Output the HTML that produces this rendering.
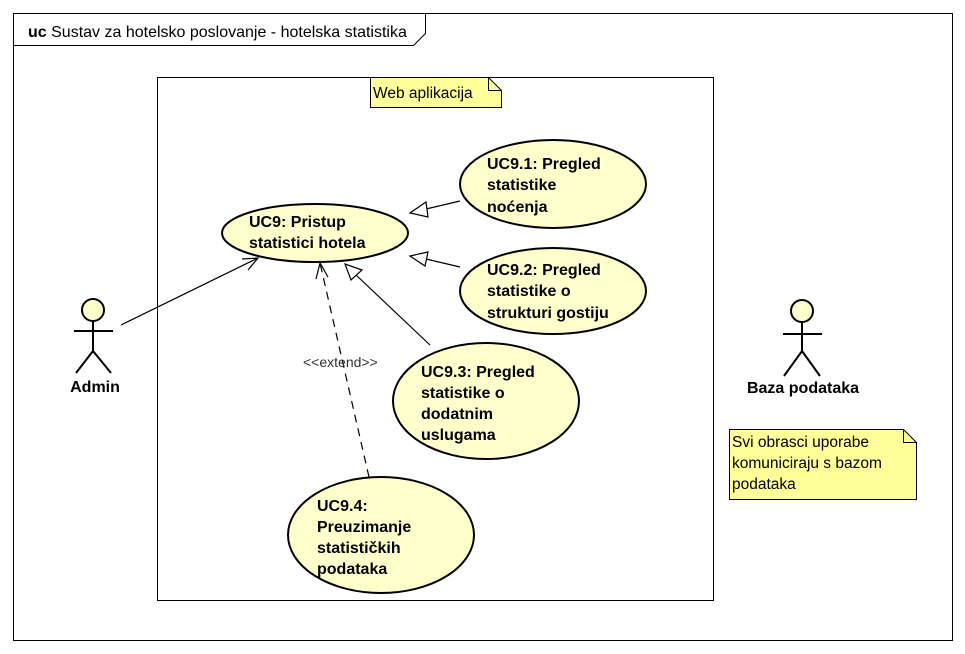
<!DOCTYPE html>
<html><head><meta charset="utf-8"><style>html,body{margin:0;padding:0;background:#fff}svg{display:block}</style></head>
<body>
<svg width="965" height="654" viewBox="0 0 965 654" xmlns="http://www.w3.org/2000/svg" font-family="Liberation Sans, sans-serif">
<rect x="0" y="0" width="965" height="654" fill="#fff"/>
<rect x="13.5" y="13.5" width="939" height="627" fill="none" stroke="#000"/>
<path d="M13.5 45.5 H413.5 L425.5 33.5 V13.5" fill="none" stroke="#000"/>
<text x="28" y="37" font-size="16"><tspan font-weight="bold">uc</tspan> Sustav za hotelsko poslovanje - hotelska statistika</text>
<rect x="157.5" y="77.5" width="556" height="523" fill="none" stroke="#000"/>
<path d="M370.5 77.5 H488.5 L501.5 90.5 V107.5 H370.5 Z" fill="#ffff99" stroke="#000"/>
<path d="M488.5 77.5 V90.5 H501.5" fill="none" stroke="#000"/>
<text x="373" y="98" font-size="15.5">Web aplikacija</text>
<g fill="#ffffcc" stroke="#000" stroke-width="2">
<ellipse cx="315" cy="233" rx="93" ry="29"/>
<ellipse cx="553" cy="184" rx="93" ry="44"/>
<ellipse cx="553" cy="291" rx="93" ry="43"/>
<ellipse cx="486" cy="401" rx="93" ry="58"/>
<ellipse cx="381" cy="535" rx="93" ry="58"/>
</g>
<g font-size="16" font-weight="bold">
<text x="249" y="227">UC9: Pristup</text><text x="249" y="248">statistici hotela</text>
<text x="487" y="169">UC9.1: Pregled</text><text x="487" y="190">statistike</text><text x="487" y="212">noćenja</text>
<text x="487" y="275">UC9.2: Pregled</text><text x="487" y="296">statistike o</text><text x="487" y="318">strukturi gostiju</text>
<text x="421" y="377">UC9.3: Pregled</text><text x="421" y="398">statistike o</text><text x="421" y="419">dodatnim</text><text x="421" y="440">uslugama</text>
<text x="317" y="511">UC9.4:</text><text x="317" y="532">Preuzimanje</text><text x="317" y="553">statističkih</text><text x="317" y="574">podataka</text>
</g>
<g stroke="#000" fill="none" stroke-width="1.2">
<line x1="121" y1="325" x2="258" y2="258"/>
<polyline points="242,259 258,258 248,270"/>
<line x1="460" y1="201" x2="426" y2="209"/>
<polygon points="426,202 410,213 428,217" fill="#fff"/>
<line x1="460" y1="267" x2="426" y2="259"/>
<polygon points="428,252 410,256 425,266" fill="#fff"/>
<line x1="430" y1="345" x2="356" y2="275"/>
<polygon points="345,264 351,280 362,270" fill="#fff"/>
<line x1="369" y1="477" x2="320" y2="263" stroke-dasharray="8,6"/>
<polyline points="316,279 320,263 328,277"/>
</g>
<text x="303" y="367" font-size="14" fill="#333">&lt;&lt;extend&gt;&gt;</text>
<g stroke="#000" stroke-width="2" fill="none">
<circle cx="93" cy="310" r="11" fill="#ffffcc"/>
<line x1="93" y1="321" x2="93" y2="351"/>
<line x1="74" y1="331" x2="113" y2="331"/>
<polyline points="76,373 93,351 111,373"/>
<circle cx="802" cy="311" r="11" fill="#ffffcc"/>
<line x1="802" y1="322" x2="802" y2="351"/>
<line x1="783" y1="334" x2="822" y2="334"/>
<polyline points="784,376 802,351 820,376"/>
</g>
<text x="95" y="392" font-size="16" font-weight="bold" text-anchor="middle">Admin</text>
<text x="803" y="393" font-size="16" font-weight="bold" text-anchor="middle">Baza podataka</text>
<path d="M729.5 429.5 H903.5 L916.5 442.5 V499.5 H729.5 Z" fill="#ffff99" stroke="#000"/>
<path d="M903.5 429.5 V442.5 H916.5" fill="none" stroke="#000"/>
<g font-size="15.5"><text x="732" y="447">Svi obrasci uporabe</text><text x="732" y="468">komuniciraju s bazom</text><text x="732" y="489">podataka</text></g>
</svg>
</body></html>
